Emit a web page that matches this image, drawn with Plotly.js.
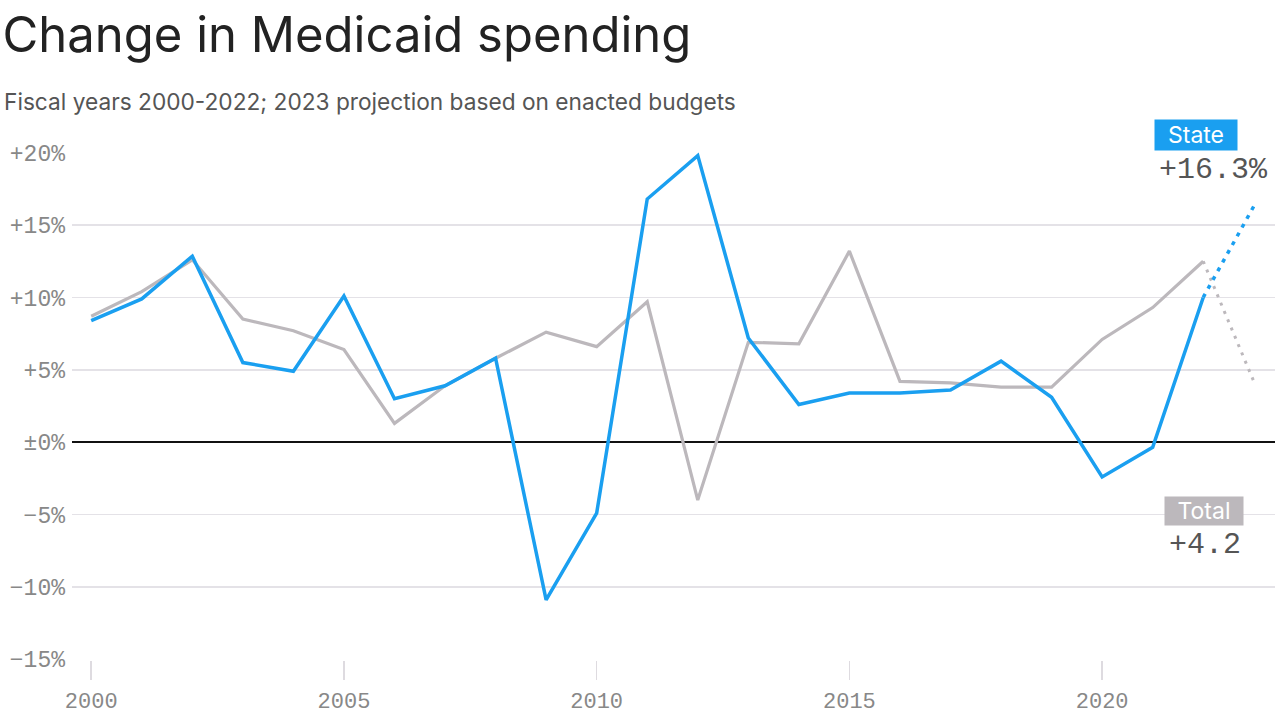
<!DOCTYPE html>
<html>
<head>
<meta charset="utf-8">
<script src="https://cdn.plot.ly/plotly-3.0.1.min.js"></script>
<style>html,body{margin:0;padding:0;background:#fff;}#chart{width:1280px;height:719px;}</style>
</head>
<body>
<div id="chart"></div>
<script>
// Data
const years = [2000,2001,2002,2003,2004,2005,2006,2007,2008,2009,2010,2011,2012,2013,2014,2015,2016,2017,2018,2019,2020,2021,2022];
const stateValues = [8.4,9.9,12.85,5.5,4.9,10.1,3.0,3.9,5.8,-10.9,-4.9,16.8,19.8,7.2,2.6,3.4,3.4,3.6,5.6,3.1,-2.4,-0.35,10.0];
const totalValues = [8.7,10.4,12.6,8.5,7.7,6.4,1.3,3.9,5.8,7.6,6.6,9.7,-4.0,6.9,6.8,13.2,4.2,4.1,3.8,3.8,7.1,9.3,12.5];
const projYears = [2022, 2023];
const stateProj = [10.0, 16.3];
const totalProj = [12.5, 4.2];
const yTickVals = [20,15,10,5,0,-5,-10,-15];
const yTickText = ['+20%','+15%','+10%','+5%','±0%','−5%','−10%','−15%'];
const xTickVals = [2000,2005,2010,2015,2020];

const BLUE = '#1a9ff0';
const GRAY = '#bcb8bc';
const W = 1280, H = 719;
const M = {l:72, r:5, t:152, b:59};
const px = x => (x - M.l) / (W - M.l - M.r);
const py = y => (H - M.b - y) / (H - M.t - M.b);

const traces = [
  {x: projYears, y: totalProj, mode:'lines', line:{color:GRAY, width:3, dash:'3px,6px'}, hoverinfo:'skip'},
  {x: projYears, y: stateProj, mode:'lines', line:{color:BLUE, width:3.5, dash:'4px,6px'}, hoverinfo:'skip'},
  {x: years, y: totalValues, mode:'lines', line:{color:GRAY, width:3.2}},
  {x: years, y: stateValues, mode:'lines', line:{color:BLUE, width:3.5}}
];

const yTickFont = {family:'Liberation Mono, DejaVu Sans Mono, monospace', size:23, color:'#888'};
const xTickFont = {family:'Liberation Mono, DejaVu Sans Mono, monospace', size:22, color:'#888'};

const layout = {
  width: W, height: H,
  margin: M,
  paper_bgcolor:'#ffffff', plot_bgcolor:'#ffffff',
  showlegend:false,
  title:{text:'Change in Medicaid spending', xref:'container', yref:'container', x:0.002, xanchor:'left', y:1-35/H, yanchor:'middle',
    font:{family:'Inter, Roboto, sans-serif', size:49, color:'#222'}},
  xaxis:{range:[1999.62, 2023.42], tickvals:xTickVals, ticktext:xTickVals.map(String), showgrid:false, zeroline:false,
    ticks:'outside', ticklen:19, tickcolor:'#dedbe0', tickwidth:1.5, ticklabelstandoff:2,
    tickfont:xTickFont},
  yaxis:{range:[-15.05, 20.05], tickvals:yTickVals, ticktext:yTickText, showgrid:true, gridcolor:'#e4e2e7', gridwidth:1.5,
    zeroline:true, zerolinecolor:'#111', zerolinewidth:1.5, ticks:'', ticklabelstandoff:6,
    tickfont:yTickFont},
  annotations:[
    {text:'Fiscal years 2000-2022; 2023 projection based on enacted budgets', xref:'paper', yref:'paper', x:px(2), y:py(102), xanchor:'left', yanchor:'middle', showarrow:false,
      font:{family:'Inter, Roboto, sans-serif', size:22.7, color:'#555'}},
    {text:'State', xref:'paper', yref:'paper', x:px(1196), y:py(135), xanchor:'center', yanchor:'middle', showarrow:false,
      bgcolor:BLUE, width:78, height:26, borderpad:2, font:{family:'Inter, Roboto, sans-serif', size:23, color:'#fff'}},
    {text:'+16.3%', xref:'paper', yref:'paper', x:px(1270), y:py(170), xanchor:'right', yanchor:'middle', showarrow:false,
      font:{family:'Liberation Mono, DejaVu Sans Mono, monospace', size:30, color:'#555'}},
    {text:'Total', xref:'paper', yref:'paper', x:px(1204), y:py(511), xanchor:'center', yanchor:'middle', showarrow:false,
      bgcolor:GRAY, width:74, height:24, borderpad:2, font:{family:'Inter, Roboto, sans-serif', size:23, color:'#fff'}},
    {text:'+4.2', xref:'paper', yref:'paper', x:px(1243), y:py(545), xanchor:'right', yanchor:'middle', showarrow:false,
      font:{family:'Liberation Mono, DejaVu Sans Mono, monospace', size:30, color:'#555'}}
  ]
};

Plotly.newPlot('chart', traces, layout, {displayModeBar:false, staticPlot:true});
</script>
</body>
</html>
